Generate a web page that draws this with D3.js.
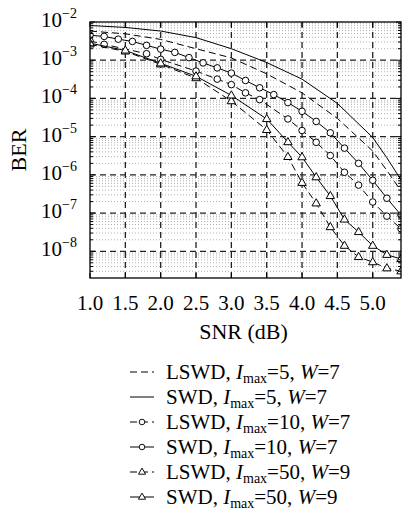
<!DOCTYPE html>
<meta charset="utf-8">
<script src="https://d3js.org/d3.v7.min.js"></script>
<style>
  body { margin: 0; background: #fff; }
  svg { display: block; }
  text { font-family: "Liberation Serif", "Times New Roman", serif; fill: #000; }
</style>
<svg></svg>
<script>

    var width = 403, height = 515;
    var margin = ({top: 22, right: 2, bottom: 237, left: 90});

    // x tick values / labels
    var snrTicks = [1.0, 1.5, 2.0, 2.5, 3.0, 3.5, 4.0, 4.5, 5.0];
    var berDecades = [1e-2, 1e-3, 1e-4, 1e-5, 1e-6, 1e-7, 1e-8];
    var decadeExp = ["−2", "−3", "−4", "−5", "−6", "−7", "−8"];

    // LSWD / SWD, Imax=5, W=7 (no markers)
    var snr5 = [1.0, 1.5, 2.0, 2.5, 3.0, 3.5, 4.0, 4.5, 5.0, 5.2, 5.4];
    var lswd5 = [5.8e-3, 4.9e-3, 3.5e-3, 2.0e-3, 1.15e-3, 4.4e-4, 1.4e-4, 3.0e-5, 4.2e-6, 1.3e-6, 3.8e-7];
    var swd5  = [8.1e-3, 7.2e-3, 5.8e-3, 3.9e-3, 2.0e-3, 8.7e-4, 3.2e-4, 7.4e-5, 9.5e-6, 2.8e-6, 7.4e-7];

    // Imax=10, W=7 (circles)
    var snrL10 = [1.0, 1.2, 1.8, 2.0, 2.5, 2.8, 3.0, 3.2, 3.4, 3.8, 4.0, 4.2, 4.4, 4.6, 4.8, 5.0, 5.2, 5.4];
    var lswd10 = [3.2e-3, 2.6e-3, 1.48e-3, 1.05e-3, 5.2e-4, 3.2e-4, 2.3e-4, 1.4e-4, 9.3e-5, 2.9e-5, 1.45e-5,
                  7.1e-6, 3.2e-6, 1.17e-6, 5.4e-7, 1.95e-7, 8.3e-8, 3.9e-8];
    var snrS10 = [1.0, 1.2, 1.4, 1.6, 1.8, 2.0, 2.2, 2.4, 2.6, 2.8, 3.0, 3.2, 3.4, 3.6, 3.8, 4.0, 4.2, 4.4,
                  4.6, 4.8, 5.0, 5.2, 5.4];
    var swd10 = [4.5e-3, 4.2e-3, 3.55e-3, 3.1e-3, 2.45e-3, 1.95e-3, 1.6e-3, 1.17e-3, 8.5e-4, 6.3e-4, 4.6e-4,
                 2.95e-4, 1.9e-4, 1.26e-4, 7.8e-5, 4.6e-5, 2.5e-5, 1.26e-5, 5.0e-6, 2.0e-6, 7.2e-7, 2.45e-7, 8.9e-8];

    // Imax=50, W=9 (triangles)
    var snr50 = [1.0, 1.5, 2.0, 2.5, 3.0, 3.5, 3.8, 4.0, 4.2, 4.4, 4.6, 4.8, 5.0, 5.2, 5.4];
    var lswd50 = [2.6e-3, 1.7e-3, 7.8e-4, 3.4e-4, 8.5e-5, 1.5e-5, 2.95e-6, 6.2e-7, 1.8e-7, 4.3e-8, 1.4e-8,
                  7.1e-9, 5.2e-9, 3.6e-9, 3.0e-9];
    var swd50 = [2.8e-3, 1.8e-3, 8.3e-4, 3.8e-4, 1.2e-4, 2.9e-5, 7.2e-6, 2.9e-6, 8.7e-7, 2.8e-7, 6.8e-8,
                 3.2e-8, 1.4e-8, 8.1e-9, 6.3e-9];

    var series = [
        {name: "LSWD", imax: "5",  w: "7", x: snr5,   y: lswd5,  dash: true,  mark: null},
        {name: "SWD",  imax: "5",  w: "7", x: snr5,   y: swd5,   dash: false, mark: null},
        {name: "LSWD", imax: "10", w: "7", x: snrL10, y: lswd10, dash: true,  mark: "circle"},
        {name: "SWD",  imax: "10", w: "7", x: snrS10, y: swd10,  dash: false, mark: "circle"},
        {name: "LSWD", imax: "50", w: "9", x: snr50,  y: lswd50, dash: true,  mark: "triangle"},
        {name: "SWD",  imax: "50", w: "9", x: snr50,  y: swd50,  dash: false, mark: "triangle"}
    ];

    var plotBottom = 278;

    var x = d3.scaleLinear()
        .domain([1.0, 5.4])
        .range([margin.left, width - margin.right]);

    var y = d3.scaleLog()
        .domain([2e-9, 1e-2])
        .range([plotBottom, margin.top]);

    var svg = d3.select("svg")
        .attr("width", width)
        .attr("height", height)
        .attr("viewBox", [0, 0, width, height]);

    var x0 = x.range()[0], x1 = x.range()[1];
    var y0 = y.range()[0], y1 = y.range()[1];

    svg.append("clipPath").attr("id", "plot")
        .append("rect")
        .attr("x", x0).attr("y", y1)
        .attr("width", x1 - x0).attr("height", y0 - y1);

    // minor grid (dotted)
    var minors = [];
    for (var e = -9; e <= -3; e++) {
        for (var m = 2; m <= 9; m++) {
            var v = m * Math.pow(10, e);
            if (v > 2e-9 && v < 1e-2) minors.push(v);
        }
    }
    svg.append("g")
        .selectAll("line")
        .data(minors)
        .join("line")
        .attr("x1", x0).attr("x2", x1)
        .attr("y1", d => y(d)).attr("y2", d => y(d))
        .attr("stroke", "#9a9a9a")
        .attr("stroke-width", 0.8)
        .attr("stroke-dasharray", "1,2");

    // major grid (dashed)
    var grid = svg.append("g")
        .attr("stroke", "#222")
        .attr("stroke-width", 1.3)
        .attr("stroke-dasharray", "6,4");
    grid.selectAll(".gx")
        .data(snrTicks.slice(1))
        .join("line")
        .attr("x1", d => x(d)).attr("x2", d => x(d))
        .attr("y1", y0).attr("y2", y1);
    grid.selectAll(".gy")
        .data(berDecades.slice(1))
        .join("line")
        .attr("x1", x0).attr("x2", x1)
        .attr("y1", d => y(d)).attr("y2", d => y(d));

    // curves
    var line = d3.line()
        .x(d => x(d[0]))
        .y(d => y(d[1]));

    var curves = svg.append("g").attr("clip-path", "url(#plot)");

    series.forEach(function(s) {
        var pts = s.x.map((v, i) => [v, s.y[i]]);
        curves.append("path")
            .attr("d", line(pts))
            .attr("fill", "none")
            .attr("stroke", "#000")
            .attr("stroke-width", 1)
            .attr("stroke-dasharray", s.dash ? "7,4" : null);
        if (s.mark) {
            curves.selectAll(null)
                .data(pts)
                .join("path")
                .attr("transform", d => `translate(${x(d[0])},${y(d[1])})`)
                .attr("d", markPath(s.mark))
                .attr("fill", "#fff")
                .attr("stroke", "#000")
                .attr("stroke-width", 1);
        }
    });

    function markPath(kind) {
        if (kind == "circle") {
            return d3.symbol(d3.symbolCircle, Math.PI * 3.3 * 3.3)();
        }
        // triangle, centroid on the point
        return "M0,-4.6L4.2,2.6L-4.2,2.6Z";
    }

    // frame
    svg.append("rect")
        .attr("x", x0).attr("y", y1)
        .attr("width", x1 - x0).attr("height", y0 - y1)
        .attr("fill", "none")
        .attr("stroke", "#000")
        .attr("stroke-width", 1.3);

    // ticks
    var ticks = svg.append("g").attr("stroke", "#000").attr("stroke-width", 1);
    snrTicks.forEach(function(t) {
        ticks.append("line").attr("x1", x(t)).attr("x2", x(t)).attr("y1", y0).attr("y2", y0 - 5);
        ticks.append("line").attr("x1", x(t)).attr("x2", x(t)).attr("y1", y1).attr("y2", y1 + 5);
    });
    berDecades.forEach(function(t) {
        ticks.append("line").attr("x1", x0).attr("x2", x0 + 5).attr("y1", y(t)).attr("y2", y(t));
        ticks.append("line").attr("x1", x1).attr("x2", x1 - 5).attr("y1", y(t)).attr("y2", y(t));
    });
    minors.forEach(function(t) {
        ticks.append("line").attr("x1", x0).attr("x2", x0 + 3).attr("y1", y(t)).attr("y2", y(t));
        ticks.append("line").attr("x1", x1).attr("x2", x1 - 3).attr("y1", y(t)).attr("y2", y(t));
    });

    // x tick labels
    svg.append("g")
        .selectAll("text")
        .data(snrTicks)
        .join("text")
        .attr("x", d => x(d))
        .attr("y", 310)
        .attr("text-anchor", "middle")
        .attr("font-size", 21)
        .text(d3.format(".1f"));

    // y tick labels
    var yl = svg.append("g")
        .selectAll("text")
        .data(berDecades)
        .join("text")
        .attr("x", 77)
        .attr("y", d => y(d) + 5)
        .attr("text-anchor", "end")
        .attr("font-size", 21);
    yl.append("tspan").text("10");
    yl.append("tspan")
        .attr("dy", -9)
        .attr("font-size", 14)
        .text((d, i) => decadeExp[i]);

    // axis titles
    svg.append("text")
        .attr("x", (x0 + x1) / 2 - 2)
        .attr("y", 339)
        .attr("text-anchor", "middle")
        .attr("font-size", 22)
        .text("SNR (dB)");

    svg.append("text")
        .attr("transform", `translate(26,${(y0 + y1) / 2}) rotate(-90)`)
        .attr("text-anchor", "middle")
        .attr("font-size", 22)
        .text("BER");

    // legend
    var legend = svg.append("g");
    series.forEach(function(s, i) {
        var by = 379 + i * 25;
        var ly = by - 7;
        legend.append("line")
            .attr("x1", 130).attr("x2", 154)
            .attr("y1", ly).attr("y2", ly)
            .attr("stroke", "#000")
            .attr("stroke-width", 1)
            .attr("stroke-dasharray", s.dash ? "7,4" : null);
        if (s.mark) {
            legend.append("path")
                .attr("transform", `translate(142,${ly})`)
                .attr("d", markPath(s.mark))
                .attr("transform", `translate(142,${ly}) scale(0.85)`)
                .attr("fill", "#fff")
                .attr("stroke", "#000")
                .attr("stroke-width", 1.1);
        }
        var t = legend.append("text")
            .attr("x", 166)
            .attr("y", by)
            .attr("font-size", 21);
        t.append("tspan").text(s.name + ", ");
        t.append("tspan").attr("font-style", "italic").text("I");
        t.append("tspan").attr("font-size", 14).attr("dy", 4).text("max");
        t.append("tspan").attr("dy", -4).text("=" + s.imax + ", ");
        t.append("tspan").attr("font-style", "italic").text("W");
        t.append("tspan").text("=" + s.w);
    });

</script>
